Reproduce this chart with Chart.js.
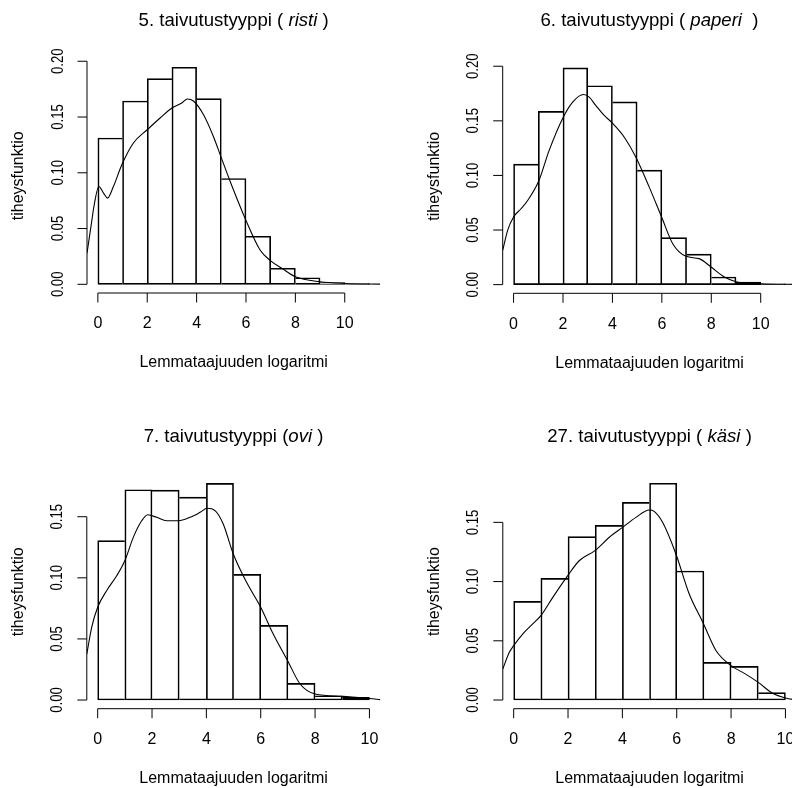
<!DOCTYPE html>
<html>
<head>
<meta charset="utf-8">
<script src="https://cdn.jsdelivr.net/npm/chart.js@4.4.1/dist/chart.umd.min.js"></script>
<style>
  html, body { margin: 0; padding: 0; background: #fff; width: 792px; height: 788px; overflow: hidden; position: relative; }
  canvas { position: absolute; }
</style>
</head>
<body>
<canvas id="p1" width="410" height="394" style="left:0px;top:0px"></canvas>
<canvas id="p2" width="410" height="394" style="left:396px;top:0px"></canvas>
<canvas id="p3" width="410" height="394" style="left:0px;top:394px"></canvas>
<canvas id="p4" width="410" height="394" style="left:396px;top:394px"></canvas>
<script>
// Left edges of the unit-width histogram bins (log lemma frequency)
const binStarts = [0, 1, 2, 3, 4, 5, 6, 7, 8, 9, 10];

// Histogram densities per inflection type
const ristiDensity  = [0.1312, 0.1644, 0.1845, 0.1946, 0.1665, 0.0949, 0.0431, 0.0144, 0.0059, 0.0016, 0.0006];
const paperiDensity = [0.1103, 0.1586, 0.1985, 0.1821, 0.1674, 0.1049, 0.0430, 0.0280, 0.0070, 0.0024, 0.0008];
const oviDensity    = [0.1304, 0.1721, 0.1718, 0.1661, 0.1773, 0.1028, 0.0611, 0.0136, 0.0035, 0.0022];
const kasiDensity   = [0.0833, 0.1027, 0.1379, 0.1475, 0.1669, 0.1830, 0.1089, 0.0318, 0.0284, 0.0062];

// Kernel density estimates
const ristiKdeX  = [-0.44, -0.24, -0.16, 0.04, 0.23, 0.39, 0.63, 0.97, 1.44, 2.0, 2.52, 3.0, 3.4, 3.63, 3.87, 4.28, 4.68, 4.98, 5.36, 5.99, 6.57, 7.0, 7.45, 8.0, 9.0, 10.0, 11.44];
const ristiKdeY  = [0.0279, 0.0578, 0.0697, 0.0877, 0.0818, 0.0773, 0.0877, 0.1072, 0.1267, 0.1386, 0.1491, 0.1581, 0.1626, 0.1662, 0.1644, 0.1521, 0.1326, 0.1147, 0.0922, 0.0578, 0.0308, 0.0210, 0.0144, 0.0068, 0.0023, 0.0008, 0.0002];

const paperiKdeX = [-0.44, -0.24, 0.0, 0.3, 0.57, 1.0, 1.44, 1.98, 2.39, 2.83, 3.06, 3.33, 3.67, 4.0, 4.48, 4.95, 5.49, 5.99, 6.44, 6.98, 7.51, 7.99, 8.53, 9.0, 10.0, 11.44];
const paperiKdeY = [0.0314, 0.0497, 0.0619, 0.0695, 0.0771, 0.0939, 0.1229, 0.1519, 0.1671, 0.1741, 0.1717, 0.1640, 0.1549, 0.1479, 0.1350, 0.1167, 0.0893, 0.0619, 0.0375, 0.0259, 0.0238, 0.0161, 0.0070, 0.0027, 0.0007, 0.0002];

const oviKdeX    = [-0.4, -0.22, 0.0, 0.33, 0.7, 1.0, 1.31, 1.62, 1.84, 2.17, 2.54, 2.97, 3.4, 3.77, 4.03, 4.32, 4.62, 4.99, 5.48, 6.0, 6.46, 6.99, 7.45, 8.0, 9.0, 10.0, 10.4];
const oviKdeY    = [0.0376, 0.0595, 0.0759, 0.0895, 0.1017, 0.1140, 0.1331, 0.1467, 0.1516, 0.1495, 0.1467, 0.1467, 0.1495, 0.1536, 0.1569, 0.1550, 0.1440, 0.1195, 0.0963, 0.0759, 0.0540, 0.0322, 0.0131, 0.0049, 0.0030, 0.0012, 0.0003];

const kasiKdeX   = [-0.4, -0.16, 0.0, 0.33, 0.7, 1.0, 1.44, 1.99, 2.41, 2.99, 3.52, 4.01, 4.5, 4.99, 5.17, 5.48, 5.97, 6.46, 6.96, 7.45, 8.0, 8.49, 9.0, 9.53, 10.0, 10.4];
const kasiKdeY   = [0.0262, 0.0403, 0.0459, 0.0557, 0.0642, 0.0712, 0.0867, 0.1050, 0.1176, 0.1261, 0.1374, 0.1458, 0.1542, 0.1604, 0.1593, 0.1500, 0.1233, 0.0895, 0.0656, 0.0416, 0.0290, 0.0225, 0.0149, 0.0057, 0.0017, 0.0001];

// Tick values and labels
const xTickValues = [0, 2, 4, 6, 8, 10];
const xTickLabels = ["0", "2", "4", "6", "8", "10"];
const yTicksUpper = [0, 0.05, 0.10, 0.15, 0.20];
const yLabelsUpper = ["0.00", "0.05", "0.10", "0.15", "0.20"];
const yTicksLower = [0, 0.05, 0.10, 0.15];
const yLabelsLower = ["0.00", "0.05", "0.10", "0.15"];

// Text
const xAxisTitle = "Lemmataajuuden logaritmi";
const yAxisTitle = "tiheysfunktio";
const titleLeads = ["5. taivutustyyppi ( ", "6. taivutustyyppi ( ", "7. taivutustyyppi (", "27. taivutustyyppi ( "];
const titleWords = ["risti", "paperi", "ovi", "käsi"];
const titleTails = [" )", "  )", " )", " )"];

const FONT = '"Liberation Sans", Arial, Helvetica, sans-serif';

// R-style axes, labels and titles drawn from the chart's own scales
const rStyleFrame = {
  id: 'rStyleFrame',
  afterDraw(chart, args, o) {
    const { ctx, chartArea: a, scales: { x, y } } = chart;
    ctx.save();
    ctx.strokeStyle = '#000';
    ctx.fillStyle = '#000';
    ctx.lineWidth = 1;

    // x axis
    const xb = a.bottom;
    const xa0 = x.getPixelForValue(o.xTicks[0]);
    const xa1 = x.getPixelForValue(o.xTicks[o.xTicks.length - 1]);
    ctx.beginPath();
    ctx.moveTo(xa0, xb); ctx.lineTo(xa1, xb);
    o.xTicks.forEach(v => {
      const px = x.getPixelForValue(v);
      ctx.moveTo(px, xb); ctx.lineTo(px, xb + 9.5);
    });
    // y axis
    const yl = a.left;
    const ya0 = y.getPixelForValue(o.yTicks[0]);
    const ya1 = y.getPixelForValue(o.yTicks[o.yTicks.length - 1]);
    ctx.moveTo(yl, ya0); ctx.lineTo(yl, ya1);
    o.yTicks.forEach(v => {
      const py = y.getPixelForValue(v);
      ctx.moveTo(yl, py); ctx.lineTo(yl - 9.5, py);
    });
    ctx.stroke();

    ctx.textAlign = 'center';
    ctx.textBaseline = 'middle';
    ctx.font = '16px ' + FONT;
    o.xTicks.forEach((v, i) => {
      ctx.fillText(o.xLabels[i], x.getPixelForValue(v), xb + 31);
    });
    o.yTicks.forEach((v, i) => {
      ctx.save();
      ctx.translate(yl - 29, y.getPixelForValue(v));
      ctx.rotate(-Math.PI / 2);
      ctx.scale(0.82, 1.05);
      ctx.fillText(o.yLabels[i], 0, 0);
      ctx.restore();
    });

    const cx = (a.left + a.right) / 2;
    const cy = (a.top + a.bottom) / 2;
    ctx.fillText(xAxisTitle, cx, xb + 70);
    ctx.save();
    ctx.translate(yl - 68, cy);
    ctx.rotate(-Math.PI / 2);
    ctx.fillText(yAxisTitle, 0, 0);
    ctx.restore();

    // main title with the example word in italics
    const plain = '18.6px ' + FONT;
    const ital = 'italic 18.6px ' + FONT;
    ctx.font = plain; const w1 = ctx.measureText(o.lead).width; const w3 = ctx.measureText(o.tail).width;
    ctx.font = ital;  const w2 = ctx.measureText(o.word).width;
    let tx = cx - (w1 + w2 + w3) / 2;
    const ty = a.top - 38;
    ctx.textAlign = 'left';
    ctx.font = plain; ctx.fillText(o.lead, tx, ty); tx += w1;
    ctx.font = ital;  ctx.fillText(o.word, tx, ty); tx += w2;
    ctx.font = plain; ctx.fillText(o.tail, tx, ty);
    ctx.restore();
  }
};

// Shared bin edges are drawn once, by the taller of the two neighbouring bars
function binBorders(values) {
  return (c) => {
    const i = c.dataIndex, n = values.length;
    return {
      top: 1,
      bottom: 1,
      left: (i === 0 || values[i] > values[i - 1]) ? 1 : 0,
      right: (i === n - 1 || values[i] >= values[i + 1]) ? 1 : 0
    };
  };
}

const panels = [
  { id: 'p1', hist: ristiDensity,  kx: ristiKdeX,  ky: ristiKdeY,  yTicks: yTicksUpper, yLabels: yLabelsUpper, pad: { left: 87,    top: 58.6, right: 29.7, bottom: 101 } },
  { id: 'p2', hist: paperiDensity, kx: paperiKdeX, ky: paperiKdeY, yTicks: yTicksUpper, yLabels: yLabelsUpper, pad: { left: 106.7, top: 59.2, right: 9.7,  bottom: 100.7 } },
  { id: 'p3', hist: oviDensity,    kx: oviKdeX,    ky: oviKdeY,    yTicks: yTicksLower, yLabels: yLabelsLower, pad: { left: 86.8,  top: 80.7, right: 29.7, bottom: 79.3 } },
  { id: 'p4', hist: kasiDensity,   kx: kasiKdeX,   ky: kasiKdeY,   yTicks: yTicksLower, yLabels: yLabelsLower, pad: { left: 106.8, top: 80.6, right: 9.7,  bottom: 79.3 } }
];

panels.forEach((p, idx) => {
  const nBins = p.hist.length;
  const xLo = binStarts[0], xHi = binStarts[0] + nBins;
  const xExt = 0.04 * (xHi - xLo);
  const yMax = Math.max(...p.hist);

  new Chart(document.getElementById(p.id), {
    type: 'bar',
    data: {
      datasets: [
        {
          type: 'line',
          data: p.kx.map((v, i) => ({ x: v, y: p.ky[i] })),
          borderColor: '#000',
          borderWidth: 1.1,
          pointRadius: 0,
          fill: false,
          cubicInterpolationMode: 'monotone'
        },
        {
          type: 'bar',
          data: p.hist.map((v, i) => ({ x: binStarts[i] + 0.5, y: v })),
          backgroundColor: 'rgba(0,0,0,0)',
          borderColor: '#000',
          borderWidth: binBorders(p.hist),
          borderSkipped: false,
          barPercentage: 1,
          categoryPercentage: 1
        }
      ]
    },
    options: {
      responsive: false,
      animation: false,
      devicePixelRatio: 1,
      events: [],
      layout: { padding: p.pad },
      scales: {
        x: { type: 'linear', min: xLo - xExt, max: xHi + xExt, offset: false, display: false },
        y: { type: 'linear', min: -0.04 * yMax, max: 1.04 * yMax, display: false }
      },
      plugins: {
        legend: { display: false },
        tooltip: { enabled: false },
        rStyleFrame: {
          xTicks: xTickValues, xLabels: xTickLabels,
          yTicks: p.yTicks, yLabels: p.yLabels,
          lead: titleLeads[idx], word: titleWords[idx], tail: titleTails[idx]
        }
      }
    },
    plugins: [rStyleFrame]
  });
});
</script>
</body>
</html>
